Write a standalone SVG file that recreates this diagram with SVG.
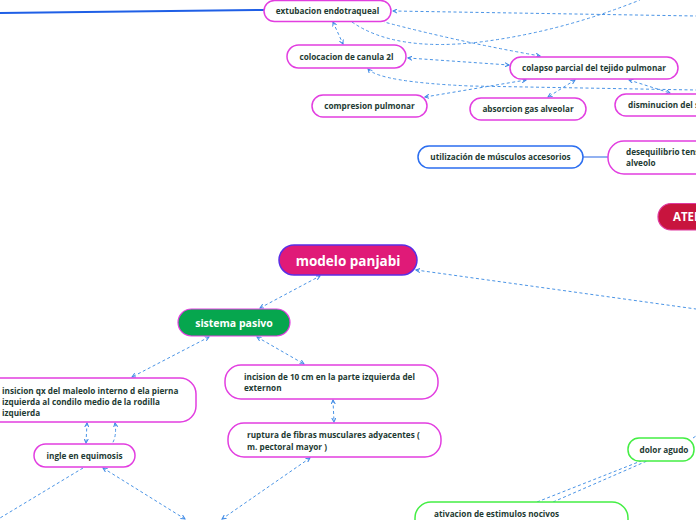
<svg xmlns="http://www.w3.org/2000/svg" width="696" height="520" viewBox="0 0 696 520">
<defs>
<marker id="ah" viewBox="0 0 6 6" refX="5" refY="3" markerWidth="5" markerHeight="5" orient="auto-start-reverse" markerUnits="userSpaceOnUse">
<path d="M0,0.5 L5,3 L0,5.5" fill="none" stroke="#3f8ae6" stroke-width="1.2"/>
</marker>
</defs>
<style>
.n{fill:#fff;stroke:#e23ee0;stroke-width:1.5}
.nb{fill:#fff;stroke:#2b6ef0;stroke-width:1.5}
.ng{fill:#fff;stroke:#44ee44;stroke-width:1.5}
.t{font-family:"Open Sans","Noto Sans",sans-serif;font-size:8.2px;font-weight:700;fill:#1e3b33}
.tw{font-family:"Open Sans","Noto Sans",sans-serif;font-weight:700;fill:#fff}
.d{fill:none;stroke:#4a94e6;stroke-width:1;stroke-dasharray:3 2.5}
.da{fill:none;stroke:#4a94e6;stroke-width:1;stroke-dasharray:3 2.5;marker-start:url(#ah);marker-end:url(#ah)}
.ds{fill:none;stroke:#4a94e6;stroke-width:1;stroke-dasharray:3 2.5;marker-start:url(#ah)}
</style>
<g id="connectors">
<path d="M0,13 L264,10" stroke="#1f5fe6" stroke-width="2" fill="none"/>
<path d="M583,157 L608,157" stroke="#4a7ee8" stroke-width="1.2" fill="none"/>
<path class="da" d="M333,22 L343,44"/>
<path class="ds" d="M393,11 L696,16"/>
<path class="ds" d="M540,56 Q460,42 384,22"/>
<path class="d" d="M352,22 Q395,52 480,42 Q560,32 640,0"/>
<path class="da" d="M408,58 L509,65"/>
<path class="ds" d="M368,69 Q380,82 470,86 L696,90"/>
<path class="da" d="M526,80 L425,97"/>
<path class="da" d="M575,80 L548,97"/>
<path class="da" d="M629,80 L670,93"/>
<path class="da" d="M260,308 L320,276"/>
<path class="ds" d="M416,270 L696,309"/>
<path class="da" d="M209,337 L132,377"/>
<path class="da" d="M257,337 L304,364"/>
<path class="da" d="M333,400 L334,422"/>
<path class="da" d="M87,423 L86,443"/>
<path class="ds" d="M115,423 Q117,436 112,444"/>
<path class="d" d="M83,468 L0,518"/>
<path class="da" d="M103,468 L185,519"/>
<path class="da" d="M310,458 L222,519"/>
<path class="d" d="M537,502 L641,461"/>
<path class="d" d="M553,502 L647,461"/>
<path class="d" d="M693,438 L696,436"/>
</g>
<g id="extubacion"><rect class="n" x="264" y="0.5" width="127" height="21" rx="10.5"/><text class="t" x="327.5" y="14" text-anchor="middle">extubacion endotraqueal</text></g>
<g id="colocacion"><rect class="n" x="287" y="45" width="119" height="23" rx="11.5"/><text class="t" x="346.5" y="59.5" text-anchor="middle">colocacion de canula 2l</text></g>
<g id="compresion"><rect class="n" x="312" y="95" width="115" height="22" rx="11"/><text class="t" x="369.5" y="109" text-anchor="middle">compresion pulmonar</text></g>
<g id="colapso"><rect class="n" x="510" y="57" width="168" height="22" rx="11"/><text class="t" x="594" y="71" text-anchor="middle">colapso parcial del tejido pulmonar</text></g>
<g id="absorcion"><rect class="n" x="470" y="98" width="116" height="22" rx="11"/><text class="t" x="528" y="112" text-anchor="middle">absorcion gas alveolar</text></g>
<g id="disminucion"><rect class="n" x="615" y="94" width="100" height="22" rx="11"/><text class="t" x="628" y="108">disminucion del s</text></g>
<g id="utilizacion"><rect class="nb" x="418" y="146" width="165" height="22" rx="11"/><text class="t" x="500.5" y="160" text-anchor="middle">utilización de músculos accesorios</text></g>
<g id="desequilibrio"><rect class="n" x="608" y="141" width="110" height="33" rx="16"/><text class="t" x="626" y="155">desequilibrio tens</text><text class="t" x="626" y="166">alveolo</text></g>
<g id="atel"><rect x="658" y="203.5" width="60" height="26.5" rx="13" fill="#c8143e" stroke="#e03aa0" stroke-width="1.2"/><text class="tw" x="673" y="221" font-size="11.5">ATEL</text></g>
<g id="modelo"><rect x="279" y="245" width="138" height="30" rx="15" fill="#e01a78" stroke="#5a2ee6" stroke-width="1.5"/><text class="tw" x="348" y="265.5" font-size="13.5" text-anchor="middle">modelo panjabi</text></g>
<g id="sistema"><rect x="178" y="309" width="112" height="27" rx="13.5" fill="#06a64e" stroke="#e23ee0" stroke-width="1.2"/><text class="tw" x="234" y="326.5" font-size="10.5" text-anchor="middle">sistema pasivo</text></g>
<g id="insicion"><rect class="n" x="-20" y="378" width="216" height="44" rx="16"/><text class="t" x="2" y="394">insicion qx del maleolo interno d ela pierna</text><text class="t" x="2" y="405">izquierda al condilo medio de la rodilla</text><text class="t" x="2" y="416">izquierda</text></g>
<g id="ingle"><rect class="n" x="34" y="444" width="101" height="23" rx="11.5"/><text class="t" x="84.5" y="458.5" text-anchor="middle">ingle en equimosis</text></g>
<g id="incision"><rect class="n" x="225" y="365" width="213" height="34" rx="16"/><text class="t" x="244" y="380">incision de 10 cm en la parte izquierda del</text><text class="t" x="244" y="391">externon</text></g>
<g id="ruptura"><rect class="n" x="228" y="423" width="213" height="34" rx="16"/><text class="t" x="247" y="438">ruptura de fibras musculares adyacentes (</text><text class="t" x="247" y="449.5">m. pectoral mayor )</text></g>
<g id="dolor"><rect class="ng" x="628" y="438" width="66" height="23" rx="11"/><text class="t" x="664" y="452.5" text-anchor="middle">dolor agudo</text></g>
<g id="ativacion"><rect class="ng" x="415" y="502" width="213" height="40" rx="16"/><text class="t" x="434" y="517">ativacion de estimulos nocivos</text></g>
</svg>
